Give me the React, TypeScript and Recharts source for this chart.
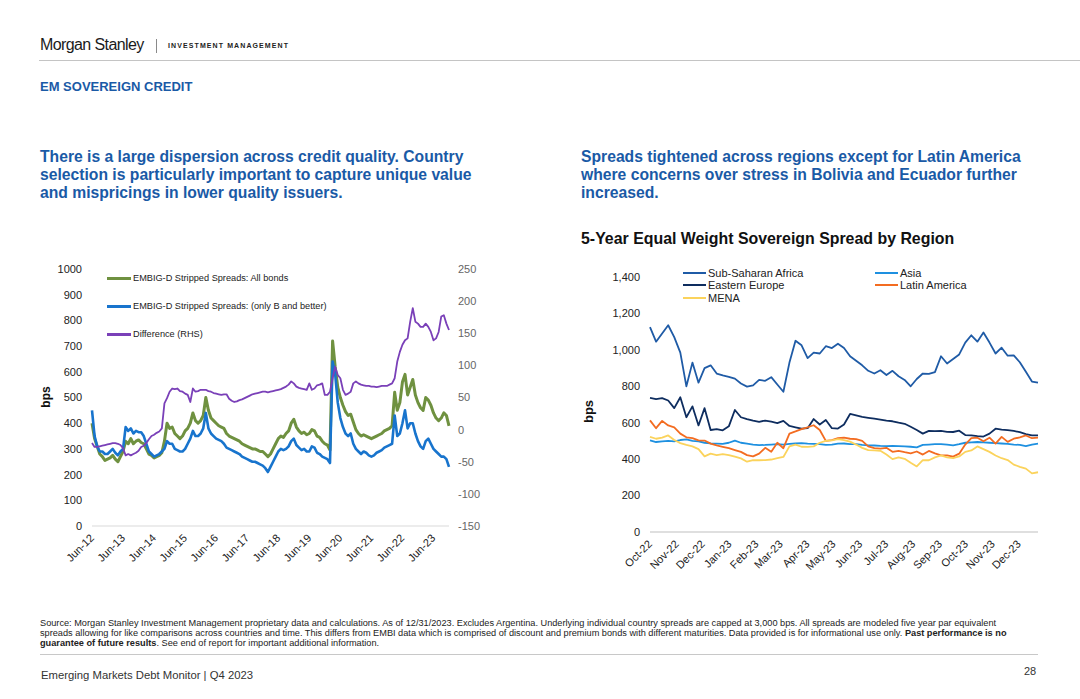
import React from 'react';
import { LineChart, Line, XAxis, YAxis, Legend } from 'recharts';

const FONT = '"Liberation Sans", Arial, Helvetica, sans-serif';
const BLUE_TEXT = '#1a5aa6';

// ---- left chart: EMBIG-D spreads, monthly from Jun-12 (index 0) to Dec-23 (index 138)
const yearTickLabels = ['Jun-12', 'Jun-13', 'Jun-14', 'Jun-15', 'Jun-16', 'Jun-17', 'Jun-18', 'Jun-19', 'Jun-20', 'Jun-21', 'Jun-22', 'Jun-23'];

const allBonds = [
  400, 340, 310, 280, 270, 255, 260,
  265, 275, 260, 250, 270, 290, 330, 320, 340, 320, 330, 335,
  325, 320, 300, 280, 275, 265, 270, 275, 285, 330, 400, 380,
  385, 360, 350, 340, 350, 370, 380, 400, 440, 410, 400, 410,
  430, 500, 450, 420, 410, 400, 390, 385, 380, 360, 350, 345,
  340, 335, 330, 320, 315, 310, 305, 300, 300, 295, 290, 290,
  280, 270, 280, 300, 320, 340, 350, 345, 360, 370, 400, 415,
  385, 370, 360, 365, 355, 360, 375, 370, 350, 345, 330, 320,
  315, 295, 720, 620, 540, 500, 470, 445, 430, 435, 405, 375,
  360, 350, 355, 350, 345, 340, 345, 350, 355, 360, 370, 375,
  380, 390, 520, 450, 480, 560, 590, 510, 540, 570, 510, 480,
  460, 450, 500, 490, 470, 440, 420, 410, 420, 440, 430, 390,
];

const bAndBetter = [
  450, 350, 310, 290, 290, 280, 280,
  290, 300, 285, 275, 290, 300, 385, 370, 380, 360, 370, 365,
  365, 350, 320, 290, 280, 270, 275, 280, 290, 300, 330, 320,
  320, 300, 295, 290, 290, 300, 320, 340, 370, 350, 350, 360,
  380, 440, 380, 360, 350, 340, 335, 330, 320, 305, 300, 295,
  290, 285, 280, 270, 265, 260, 255, 250, 250, 245, 240, 235,
  225, 210, 230, 250, 270, 290, 300, 295, 300, 310, 330, 340,
  315, 305, 295, 300, 290, 290, 310, 305, 285, 280, 270, 265,
  260, 245, 640, 590, 480, 420, 385, 360, 350, 360, 320, 300,
  290, 280, 290, 285, 275, 270, 275, 285, 290, 295, 305, 310,
  315, 320, 430, 350, 360, 400, 450, 380, 400, 400, 360, 330,
  310, 300, 330, 340, 320, 300, 290, 280, 270, 270, 260, 230,
];

const difference = [
  -21, -27, -27, -26, -25, -24, -23,
  -22, -21, -21, -22, -24, -29, -40, -38, -40, -38, -36, -33,
  -27, -25, -21, -15, -10, -8, -5, -3, 2, 41, 49, 59,
  64, 63, 64, 60, 59, 56, 54, 43, 64, 59, 60, 62,
  62, 62, 60, 59, 57, 56, 55, 54, 55, 55, 48, 45,
  43, 44, 46, 47, 49, 51, 53, 55, 56, 57, 58, 59,
  59, 58, 59, 60, 61, 62, 63, 65, 67, 70, 75, 72,
  67, 65, 64, 63, 62, 72, 62, 64, 69, 70, 72, 54,
  54, 59, 80, 98, 85, 80, 62, 54, 56, 59, 72, 75,
  72, 70, 69, 68, 68, 67, 67, 66, 67, 68, 68, 68,
  70, 72, 80, 106, 121, 132, 139, 142, 168, 189, 168, 165,
  160, 160, 165, 160, 152, 139, 142, 152, 176, 178, 165, 155,
];

const leftSeries = [
  { key: 'all', name: 'EMBIG-D Stripped Spreads: All bonds', color: '#6f9140', width: 3, axis: 'l' },
  { key: 'bb', name: 'EMBIG-D Stripped Spreads: (only B and better)', color: '#1874cd', width: 2.6, axis: 'l' },
  { key: 'diff', name: 'Difference (RHS)', color: '#7a40b8', width: 1.8, axis: 'r' },
];

const leftData = allBonds.map((v, i) => ({ m: i, all: v, bb: bAndBetter[i], diff: difference[i] }));

// ---- right chart: weekly from 1 Oct 2022 (x = days since)
const monthLabels = ['Oct-22', 'Nov-22', 'Dec-22', 'Jan-23', 'Feb-23', 'Mar-23', 'Apr-23', 'May-23', 'Jun-23', 'Jul-23', 'Aug-23', 'Sep-23', 'Oct-23', 'Nov-23', 'Dec-23'];
const monthStartDays = [0, 31, 61, 92, 123, 151, 182, 212, 243, 273, 304, 335, 365, 396, 426];

const subSaharanAfrica = [
  1125, 1045, 1090, 1135, 1070, 985, 800, 930, 820, 900, 915, 870, 860, 852, 842, 815,
  798, 805, 835, 830, 850, 810, 770, 930, 1050, 1025, 955, 985, 980, 1020, 1010, 1034,
  1010, 965, 940, 915, 885, 870, 888, 862, 885, 855, 835, 800, 840, 870, 868, 878,
  965, 925, 950, 975, 1040, 1080, 1045, 1095, 1040, 980, 1012, 968, 970, 932, 880, 826, 820,
];
const easternEurope = [
  736, 730, 735, 722, 680, 740, 630, 690, 585, 680, 560, 565, 558, 580, 670, 630,
  620, 612, 605, 612, 606, 598, 610, 582, 575, 568, 570, 620, 590, 615, 570, 568,
  590, 648, 640, 632, 627, 622, 617, 612, 608, 600, 594, 578, 560, 540, 555, 554,
  555, 550, 549, 556, 532, 531, 526, 524, 540, 567, 562, 559, 555, 548, 537, 531, 531,
];
const asia = [
  503, 494, 497, 500, 498, 505, 509, 500, 498, 490, 486, 485, 484, 490, 502, 490,
  485, 480, 477, 478, 480, 482, 480, 484, 486, 488, 485, 484, 482, 478, 480, 485,
  486, 483, 482, 478, 476, 475, 473, 472, 473, 472, 470, 468, 465, 478, 480, 482,
  483, 480, 476, 482, 490, 492, 494, 492, 490, 488, 486, 484, 480, 478, 472, 480, 485,
];
const latinAmerica = [
  613, 570, 610, 585, 575, 540, 520, 515, 503, 502, 485, 476, 468, 460, 450, 440,
  422, 415, 430, 462, 440, 490, 460, 540, 552, 565, 575, 586, 560, 500, 505, 515,
  518, 512, 510, 500, 470, 460, 458, 462, 440, 445, 438, 432, 442, 425, 445, 432,
  421, 421, 414, 430, 480, 515, 518, 498, 518, 485, 522, 495, 512, 520, 530, 515, 518,
];
const mena = [
  522, 512, 518, 530, 505, 488, 478, 470, 455, 415, 430, 422, 428, 422, 414, 404,
  386, 394, 394, 395, 398, 405, 412, 470, 480, 468, 467, 470, 490, 500, 503, 510,
  505, 496, 480, 462, 450, 448, 446, 425, 400, 410, 402, 380, 360, 395, 394, 410,
  421, 410, 405, 415, 440, 448, 470, 455, 440, 420, 405, 395, 370, 358, 348, 322, 328,
];

const rightSeries = [
  { key: 'ssa', name: 'Sub-Saharan Africa', color: '#1f5ba6' },
  { key: 'asia', name: 'Asia', color: '#1e90e0' },
  { key: 'ee', name: 'Eastern Europe', color: '#0e2d5f' },
  { key: 'latam', name: 'Latin America', color: '#f36c21' },
  { key: 'mena', name: 'MENA', color: '#fbd35c' },
];

const rightData = subSaharanAfrica.map((v, i) => ({
  d: i * 7,
  ssa: v,
  ee: easternEurope[i],
  asia: asia[i],
  latam: latinAmerica[i],
  mena: mena[i],
}));

const AngledTick = (props: any) => {
  const { x, y, payload, labels, step, fontSize } = props;
  const label = labels[Math.round(payload.value / step)] ?? '';
  return (
    <text
      x={x}
      y={y}
      dy="0.35em"
      textAnchor="end"
      fill="#222"
      fontSize={fontSize}
      fontFamily={FONT}
      transform={`rotate(-45 ${x} ${y})`}
    >
      {label}
    </text>
  );
};

const MonthTick = (props: any) => {
  const { x, y, payload } = props;
  const idx = monthStartDays.indexOf(payload.value);
  return (
    <text x={x} y={y} dy="0.35em" textAnchor="end" fill="#222" fontSize={11} fontFamily={FONT} transform={`rotate(-45 ${x} ${y})`}>
      {monthLabels[idx]}
    </text>
  );
};

const LeftLegend = () => (
  <div style={{ fontFamily: FONT, fontSize: 9.2, color: '#222' }}>
    {leftSeries.map((s) => (
      <div key={s.key} style={{ display: 'flex', alignItems: 'center', height: 28 }}>
        <span style={{ display: 'inline-block', width: 24, height: 3, background: s.color, marginRight: 2 }} />
        <span>{s.name}</span>
      </div>
    ))}
  </div>
);

const legendOrder = ['ssa', 'asia', 'ee', 'latam', 'mena'];
const RightLegend = () => (
  <div style={{ fontFamily: FONT, fontSize: 11, color: '#222', display: 'grid', gridTemplateColumns: '192px 150px', rowGap: 0 }}>
    {legendOrder.map((k) => {
      const s = rightSeries.find((r) => r.key === k)!;
      return (
        <div key={k} style={{ display: 'flex', alignItems: 'center', height: 12.3 }}>
          <span style={{ display: 'inline-block', width: 23, height: 2, background: s.color, marginRight: 2 }} />
          <span>{s.name}</span>
        </div>
      );
    })}
  </div>
);

const abs = (left: number, top: number, extra: React.CSSProperties = {}): React.CSSProperties => ({
  position: 'absolute',
  left,
  top,
  ...extra,
});

export default function App() {
  const headline: React.CSSProperties = {
    fontSize: 15.7,
    lineHeight: '18px',
    fontWeight: 700,
    color: BLUE_TEXT,
    whiteSpace: 'nowrap',
  };
  return (
    <div style={{ position: 'absolute', left: 0, top: 0, width: 1080, height: 699, background: '#fff', fontFamily: FONT, overflow: 'hidden' }}>
      {/* header */}
      <div style={abs(40, 37, { fontSize: 16, lineHeight: '16px', letterSpacing: -0.6, color: '#1b1b1b' })}>Morgan Stanley</div>
      <div style={abs(156, 39, { width: 1, height: 14, background: '#8a8a8a' })} />
      <div style={abs(168, 41.5, { fontSize: 7, lineHeight: '7px', fontWeight: 700, letterSpacing: 1.1, color: '#222' })}>
        INVESTMENT MANAGEMENT
      </div>
      <div style={abs(39, 60, { width: 1041, height: 1, background: '#c4c4c4' })} />
      <div style={abs(40, 80, { fontSize: 13, lineHeight: '13px', fontWeight: 700, color: BLUE_TEXT })}>EM SOVEREIGN CREDIT</div>

      <div style={abs(40, 148, headline)}>
        There is a large dispersion across credit quality. Country
        <br />
        selection is particularly important to capture unique value
        <br />
        and mispricings in lower quality issuers.
      </div>
      <div style={abs(581, 148, headline)}>
        Spreads tightened across regions except for Latin America
        <br />
        where concerns over stress in Bolivia and Ecuador further
        <br />
        increased.
      </div>
      <div style={abs(581, 231, { fontSize: 15.9, lineHeight: '16px', fontWeight: 700, color: '#111', whiteSpace: 'nowrap' })}>
        5-Year Equal Weight Sovereign Spread by Region
      </div>

      {/* left chart */}
      <div style={abs(30, 255)}>
        <LineChart width={460} height={330} data={leftData} margin={{ top: 14, right: 0, bottom: 0, left: 0 }}>
          <XAxis
            dataKey="m"
            type="number"
            domain={[0, 138]}
            ticks={yearTickLabels.map((_, i) => i * 12)}
            tick={(p: any) => <AngledTick {...p} labels={yearTickLabels} step={12} fontSize={11} />}
            height={59}
            axisLine={{ stroke: '#d9d9d9' }}
            tickLine={false}
            tickSize={0}
            tickMargin={10}
            interval={0}
          />
          <YAxis
            yAxisId="l"
            domain={[0, 1000]}
            ticks={[0, 100, 200, 300, 400, 500, 600, 700, 800, 900, 1000]}
            width={62}
            axisLine={false}
            tickLine={false}
            tickSize={0}
            tickMargin={10}
            tick={{ fill: '#222', fontSize: 11, fontFamily: FONT }}
            interval={0}
          />
          <YAxis
            yAxisId="r"
            orientation="right"
            domain={[-150, 250]}
            ticks={[-150, -100, -50, 0, 50, 100, 150, 200, 250]}
            width={41}
            axisLine={false}
            tickLine={false}
            tickSize={0}
            tickMargin={9}
            tick={{ fill: '#666', fontSize: 11, fontFamily: FONT, textAnchor: 'start' }}
            interval={0}
          />
          <Legend
            layout="vertical"
            align="center"
            verticalAlign="middle"
            content={() => <LeftLegend />}
            wrapperStyle={{ top: 9, left: 77, width: 'auto', height: 'auto' }}
          />
          {leftSeries.map((s) => (
            <Line
              key={s.key}
              yAxisId={s.axis}
              dataKey={s.key}
              name={s.name}
              type="linear"
              stroke={s.color}
              strokeWidth={s.width}
              strokeLinejoin="round"
              dot={false}
              isAnimationActive={false}
            />
          ))}
        </LineChart>
      </div>
      <div style={abs(32, 390, { width: 28, textAlign: 'center', fontSize: 12, fontWeight: 700, color: '#111', transform: 'rotate(-90deg)' })}>bps</div>

      {/* right chart */}
      <div style={abs(570, 255)}>
        <LineChart width={480} height={330} data={rightData} margin={{ top: 22, right: 12, bottom: 0, left: 0 }}>
          <XAxis
            dataKey="d"
            type="number"
            domain={[0, 448]}
            ticks={monthStartDays}
            tick={(p: any) => <MonthTick {...p} />}
            height={53}
            axisLine={{ stroke: '#bfbfbf' }}
            tickLine={false}
            tickSize={0}
            tickMargin={10}
            interval={0}
          />
          <YAxis
            domain={[0, 1400]}
            ticks={[0, 200, 400, 600, 800, 1000, 1200, 1400]}
            tickFormatter={(v: number) => v.toLocaleString('en-US')}
            width={80}
            axisLine={false}
            tickLine={false}
            tickSize={0}
            tickMargin={10}
            tick={{ fill: '#222', fontSize: 11, fontFamily: FONT }}
            interval={0}
          />
          <Legend
            layout="vertical"
            align="center"
            verticalAlign="middle"
            content={() => <RightLegend />}
            wrapperStyle={{ top: 12, left: 113, width: 'auto', height: 'auto' }}
          />
          {rightSeries.map((s) => (
            <Line
              key={s.key}
              dataKey={s.key}
              name={s.name}
              type="linear"
              stroke={s.color}
              strokeWidth={1.8}
              strokeLinejoin="round"
              dot={false}
              isAnimationActive={false}
            />
          ))}
        </LineChart>
      </div>
      <div style={abs(574, 404, { width: 28, textAlign: 'center', fontSize: 13, fontWeight: 700, color: '#111', transform: 'rotate(-90deg)' })}>bps</div>

      {/* footnote */}
      <div style={abs(40, 618, { fontSize: 9.2, lineHeight: '10px', color: '#222', whiteSpace: 'nowrap' })}>
        Source: Morgan Stanley Investment Management proprietary data and calculations. As of 12/31/2023. Excludes Argentina. Underlying individual country spreads are capped at 3,000 bps. All spreads are modeled five year par equivalent
        <br />
        spreads allowing for like comparisons across countries and time. This differs from EMBI data which is comprised of discount and premium bonds with different maturities. Data provided is for informational use only.{' '}
        <b>Past performance is no</b>
        <br />
        <b>guarantee of future results</b>. See end of report for important additional information.
      </div>
      <div style={abs(40, 654, { width: 998, height: 1, background: '#c8c8c8' })} />
      <div style={abs(41, 669.5, { fontSize: 11.3, lineHeight: '11px', color: '#333', whiteSpace: 'nowrap' })}>
        Emerging Markets Debt Monitor | Q4 2023
      </div>
      <div style={abs(1024, 666, { fontSize: 11, lineHeight: '11px', color: '#333' })}>28</div>
    </div>
  );
}
